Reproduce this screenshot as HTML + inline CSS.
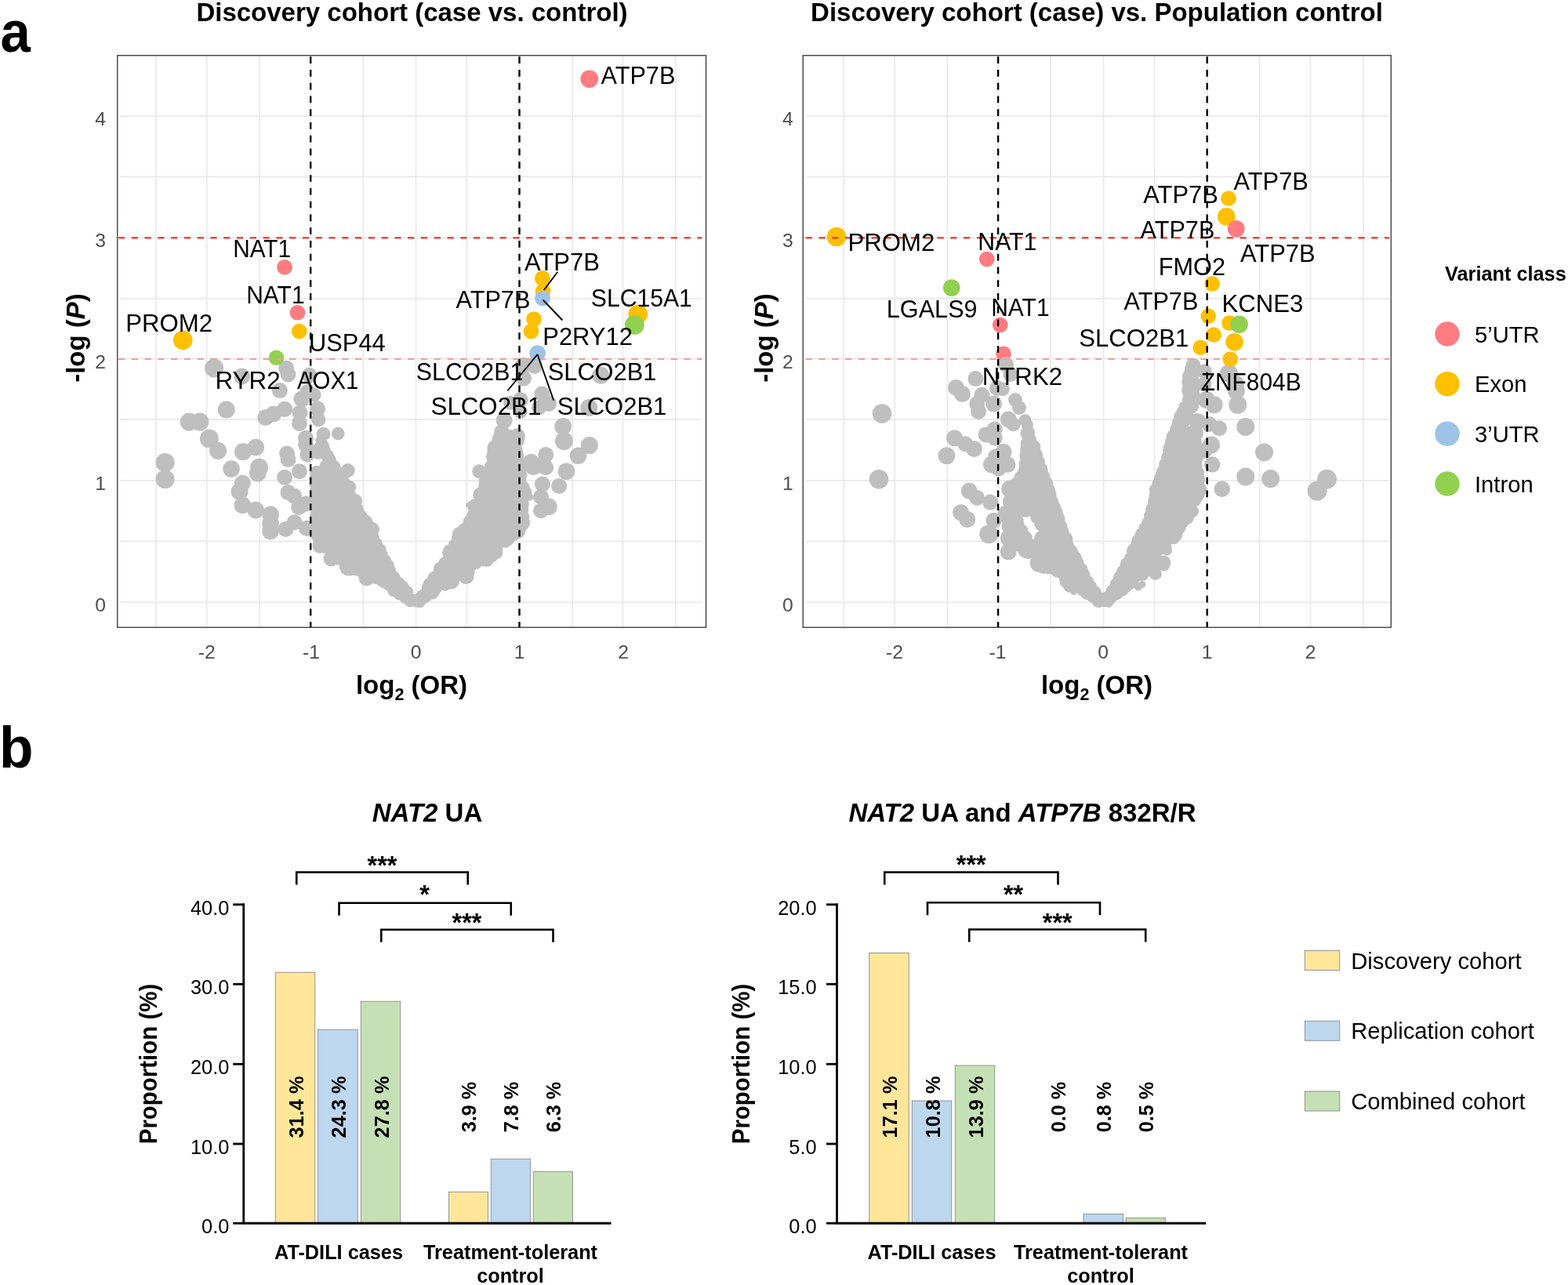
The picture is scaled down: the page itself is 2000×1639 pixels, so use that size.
<!DOCTYPE html>
<html lang="en"><head><meta charset="utf-8"><title>Figure</title>
<style>html,body{margin:0;padding:0;background:#fff}body{width:2000px;height:1639px;overflow:hidden}svg{display:block}</style>
</head><body>
<svg width="2000" height="1639" viewBox="0 0 2000 1639" font-family="'Liberation Sans', sans-serif">
<rect width="2000" height="1639" fill="#fff"/>
<line x1="152.5" x2="895" y1="148.25" y2="148.25" stroke="#ebebeb" stroke-width="1.8"/>
<line x1="152.5" x2="895" y1="225.5" y2="225.5" stroke="#ebebeb" stroke-width="1.8"/>
<line x1="152.5" x2="895" y1="303.25" y2="303.25" stroke="#ebebeb" stroke-width="1.8"/>
<line x1="152.5" x2="895" y1="380.75" y2="380.75" stroke="#ebebeb" stroke-width="1.8"/>
<line x1="152.5" x2="895" y1="457.5" y2="457.5" stroke="#ebebeb" stroke-width="1.8"/>
<line x1="152.5" x2="895" y1="535" y2="535" stroke="#ebebeb" stroke-width="1.8"/>
<line x1="152.5" x2="895" y1="613" y2="613" stroke="#ebebeb" stroke-width="1.8"/>
<line x1="152.5" x2="895" y1="690.5" y2="690.5" stroke="#ebebeb" stroke-width="1.8"/>
<line x1="152.5" x2="895" y1="768.25" y2="768.25" stroke="#ebebeb" stroke-width="1.8"/>
<line x1="199.25" x2="199.25" y1="70.75" y2="800.25" stroke="#ebebeb" stroke-width="1.8"/>
<line x1="263.75" x2="263.75" y1="70.75" y2="800.25" stroke="#ebebeb" stroke-width="1.8"/>
<line x1="331.25" x2="331.25" y1="70.75" y2="800.25" stroke="#ebebeb" stroke-width="1.8"/>
<line x1="396.2" x2="396.2" y1="70.75" y2="800.25" stroke="#ebebeb" stroke-width="1.8"/>
<line x1="463.25" x2="463.25" y1="70.75" y2="800.25" stroke="#ebebeb" stroke-width="1.8"/>
<line x1="530.5" x2="530.5" y1="70.75" y2="800.25" stroke="#ebebeb" stroke-width="1.8"/>
<line x1="595.25" x2="595.25" y1="70.75" y2="800.25" stroke="#ebebeb" stroke-width="1.8"/>
<line x1="662.5" x2="662.5" y1="70.75" y2="800.25" stroke="#ebebeb" stroke-width="1.8"/>
<line x1="730" x2="730" y1="70.75" y2="800.25" stroke="#ebebeb" stroke-width="1.8"/>
<line x1="794.5" x2="794.5" y1="70.75" y2="800.25" stroke="#ebebeb" stroke-width="1.8"/>
<line x1="861.75" x2="861.75" y1="70.75" y2="800.25" stroke="#ebebeb" stroke-width="1.8"/>
<g fill="#bfbfbf">
<circle cx="528.8" cy="765.9" r="7.5"/><circle cx="523.3" cy="767" r="7.5"/><circle cx="518" cy="761.4" r="9.1"/><circle cx="510.1" cy="756.6" r="9.2"/><circle cx="502.7" cy="753.1" r="8.5"/><circle cx="496.5" cy="745.7" r="8.3"/><circle cx="487.8" cy="738.9" r="9.6"/><circle cx="478" cy="736.2" r="8.9"/><circle cx="471.1" cy="733.4" r="8.4"/><circle cx="461.8" cy="727.9" r="9.2"/><circle cx="453.6" cy="725.5" r="8.7"/><circle cx="448.6" cy="722.9" r="8.4"/><circle cx="442.1" cy="718.9" r="8.7"/><circle cx="431.8" cy="712.3" r="8.4"/><circle cx="430" cy="710.4" r="9.6"/><circle cx="423.3" cy="703.3" r="8.4"/><circle cx="413.7" cy="697.3" r="8.5"/><circle cx="410" cy="697.1" r="6.5"/><circle cx="407.4" cy="686.9" r="8.8"/><circle cx="406" cy="682.2" r="9.5"/><circle cx="405.6" cy="674.8" r="9.4"/><circle cx="405.1" cy="667.6" r="9.2"/><circle cx="404.6" cy="658.3" r="9.2"/><circle cx="404.8" cy="649.2" r="8.5"/><circle cx="405.3" cy="642.6" r="9"/><circle cx="405" cy="633.4" r="8.9"/><circle cx="403.5" cy="626.9" r="8.7"/><circle cx="402.8" cy="617.1" r="8.6"/><circle cx="404.1" cy="610" r="9.7"/><circle cx="404.1" cy="602.8" r="9"/><circle cx="405.4" cy="576.4" r="8.5"/><circle cx="407.7" cy="573.1" r="9.1"/><circle cx="405.8" cy="561" r="3.5"/><circle cx="410.7" cy="569.1" r="9.1"/><circle cx="411.3" cy="568" r="7.5"/><circle cx="412.2" cy="574.9" r="9.7"/><circle cx="417.7" cy="581.5" r="8.4"/><circle cx="420.4" cy="587.5" r="8.7"/><circle cx="425.2" cy="595.4" r="9"/><circle cx="429.7" cy="603.4" r="8.7"/><circle cx="433.2" cy="607.7" r="8.3"/><circle cx="437.8" cy="614.5" r="8.3"/><circle cx="440.3" cy="624.2" r="9.3"/><circle cx="445.4" cy="633.2" r="9.4"/><circle cx="450.4" cy="643.5" r="8.7"/><circle cx="454.9" cy="650" r="9"/><circle cx="459.6" cy="658.9" r="9.2"/><circle cx="465.9" cy="666" r="9.5"/><circle cx="469" cy="670" r="8.3"/><circle cx="471.6" cy="676.6" r="8.6"/><circle cx="475.2" cy="685.6" r="8.7"/><circle cx="479.1" cy="693.7" r="8.8"/><circle cx="484.1" cy="700.9" r="8.4"/><circle cx="486.4" cy="708" r="8.4"/><circle cx="489.8" cy="715.7" r="9.5"/><circle cx="493.1" cy="722.2" r="9.1"/><circle cx="495.9" cy="728.9" r="9.6"/><circle cx="501.2" cy="737.2" r="9.4"/><circle cx="507.9" cy="743.9" r="8.7"/><circle cx="512.4" cy="749.1" r="9.3"/><circle cx="518.9" cy="755.2" r="8.3"/><circle cx="411" cy="568.7" r="8.6"/><circle cx="406" cy="577.3" r="8.6"/><circle cx="416" cy="594.6" r="8.6"/><circle cx="411" cy="603.3" r="8.6"/><circle cx="421" cy="603.3" r="8.6"/><circle cx="431" cy="603.3" r="8.6"/><circle cx="406" cy="612" r="8.6"/><circle cx="416" cy="612" r="8.6"/><circle cx="426" cy="612" r="8.6"/><circle cx="436" cy="612" r="8.6"/><circle cx="411" cy="620.6" r="8.6"/><circle cx="421" cy="620.6" r="8.6"/><circle cx="431" cy="620.6" r="8.6"/><circle cx="406" cy="629.3" r="8.6"/><circle cx="416" cy="629.3" r="8.6"/><circle cx="426" cy="629.3" r="8.6"/><circle cx="436" cy="629.3" r="8.6"/><circle cx="411" cy="637.9" r="8.6"/><circle cx="421" cy="637.9" r="8.6"/><circle cx="431" cy="637.9" r="8.6"/><circle cx="441" cy="637.9" r="8.6"/><circle cx="406" cy="646.6" r="8.6"/><circle cx="416" cy="646.6" r="8.6"/><circle cx="426" cy="646.6" r="8.6"/><circle cx="436" cy="646.6" r="8.6"/><circle cx="446" cy="646.6" r="8.6"/><circle cx="411" cy="655.3" r="8.6"/><circle cx="421" cy="655.3" r="8.6"/><circle cx="431" cy="655.3" r="8.6"/><circle cx="441" cy="655.3" r="8.6"/><circle cx="451" cy="655.3" r="8.6"/><circle cx="406" cy="663.9" r="8.6"/><circle cx="416" cy="663.9" r="8.6"/><circle cx="426" cy="663.9" r="8.6"/><circle cx="436" cy="663.9" r="8.6"/><circle cx="446" cy="663.9" r="8.6"/><circle cx="456" cy="663.9" r="8.6"/><circle cx="411" cy="672.6" r="8.6"/><circle cx="421" cy="672.6" r="8.6"/><circle cx="431" cy="672.6" r="8.6"/><circle cx="441" cy="672.6" r="8.6"/><circle cx="451" cy="672.6" r="8.6"/><circle cx="461" cy="672.6" r="8.6"/><circle cx="406" cy="681.2" r="8.6"/><circle cx="416" cy="681.2" r="8.6"/><circle cx="426" cy="681.2" r="8.6"/><circle cx="436" cy="681.2" r="8.6"/><circle cx="446" cy="681.2" r="8.6"/><circle cx="456" cy="681.2" r="8.6"/><circle cx="466" cy="681.2" r="8.6"/><circle cx="411" cy="689.9" r="8.6"/><circle cx="421" cy="689.9" r="8.6"/><circle cx="431" cy="689.9" r="8.6"/><circle cx="441" cy="689.9" r="8.6"/><circle cx="451" cy="689.9" r="8.6"/><circle cx="461" cy="689.9" r="8.6"/><circle cx="471" cy="689.9" r="8.6"/><circle cx="426" cy="698.6" r="8.6"/><circle cx="436" cy="698.6" r="8.6"/><circle cx="446" cy="698.6" r="8.6"/><circle cx="456" cy="698.6" r="8.6"/><circle cx="466" cy="698.6" r="8.6"/><circle cx="476" cy="698.6" r="8.6"/><circle cx="431" cy="707.2" r="8.6"/><circle cx="441" cy="707.2" r="8.6"/><circle cx="451" cy="707.2" r="8.6"/><circle cx="461" cy="707.2" r="8.6"/><circle cx="471" cy="707.2" r="8.6"/><circle cx="481" cy="707.2" r="8.6"/><circle cx="446" cy="715.9" r="8.6"/><circle cx="456" cy="715.9" r="8.6"/><circle cx="466" cy="715.9" r="8.6"/><circle cx="476" cy="715.9" r="8.6"/><circle cx="486" cy="715.9" r="8.6"/><circle cx="451" cy="724.5" r="8.6"/><circle cx="461" cy="724.5" r="8.6"/><circle cx="471" cy="724.5" r="8.6"/><circle cx="481" cy="724.5" r="8.6"/><circle cx="491" cy="724.5" r="8.6"/><circle cx="476" cy="733.2" r="8.6"/><circle cx="486" cy="733.2" r="8.6"/><circle cx="496" cy="733.2" r="8.6"/><circle cx="491" cy="741.9" r="8.6"/><circle cx="501" cy="741.9" r="8.6"/><circle cx="506" cy="750.5" r="8.6"/><circle cx="534.3" cy="765.2" r="8.7"/><circle cx="539.8" cy="760.8" r="9.4"/><circle cx="547.2" cy="750.1" r="9.5"/><circle cx="548.8" cy="745.9" r="9.4"/><circle cx="554.4" cy="737.9" r="9.3"/><circle cx="561.8" cy="728.3" r="9.1"/><circle cx="561.8" cy="725.4" r="8.9"/><circle cx="568.3" cy="719.6" r="9.6"/><circle cx="572.9" cy="705.1" r="8.8"/><circle cx="574" cy="702.9" r="9"/><circle cx="580.9" cy="695.6" r="9.2"/><circle cx="584.9" cy="685.8" r="9"/><circle cx="586.1" cy="681.3" r="9.3"/><circle cx="592.1" cy="675.7" r="8.6"/><circle cx="600.4" cy="665.1" r="9.4"/><circle cx="604" cy="657.2" r="8.5"/><circle cx="597.5" cy="644.1" r="3.5"/><circle cx="605.8" cy="645.9" r="9.6"/><circle cx="612.7" cy="631.5" r="9.3"/><circle cx="613.3" cy="630.6" r="9.6"/><circle cx="619.2" cy="619.9" r="9"/><circle cx="619.4" cy="611.2" r="8.4"/><circle cx="623.3" cy="602.5" r="9.4"/><circle cx="626.5" cy="595.5" r="8.9"/><circle cx="629.5" cy="583.1" r="9.4"/><circle cx="631.2" cy="575.5" r="9.6"/><circle cx="632.6" cy="573" r="9.6"/><circle cx="635.8" cy="563.5" r="8.6"/><circle cx="640.2" cy="557.3" r="8.7"/><circle cx="641.1" cy="548" r="3.5"/><circle cx="642.4" cy="553.9" r="8.3"/><circle cx="651.6" cy="556.3" r="8.4"/><circle cx="658.5" cy="559.8" r="8.4"/><circle cx="660.3" cy="561.4" r="8.6"/><circle cx="658.4" cy="573.3" r="8.3"/><circle cx="659.3" cy="579.9" r="8.6"/><circle cx="660.7" cy="586.7" r="8.3"/><circle cx="663.2" cy="596.4" r="8.4"/><circle cx="664.1" cy="605.4" r="8.3"/><circle cx="661.6" cy="612.1" r="9.7"/><circle cx="667.5" cy="622.2" r="8.4"/><circle cx="669.2" cy="628.6" r="9.4"/><circle cx="675.9" cy="634.2" r="4.5"/><circle cx="665.4" cy="642.7" r="9.5"/><circle cx="665.8" cy="650" r="8.6"/><circle cx="666.2" cy="659.4" r="9.1"/><circle cx="667.1" cy="667" r="9"/><circle cx="665" cy="670.7" r="8.3"/><circle cx="660.7" cy="677.5" r="9.6"/><circle cx="655.1" cy="681.3" r="8.6"/><circle cx="647.3" cy="686.7" r="9.1"/><circle cx="644.2" cy="690" r="8.7"/><circle cx="632.6" cy="701" r="8.8"/><circle cx="632.9" cy="704.8" r="8.4"/><circle cx="626.7" cy="709.6" r="8.3"/><circle cx="621" cy="714" r="8.8"/><circle cx="617.1" cy="713.2" r="9.3"/><circle cx="606.2" cy="717.7" r="8.9"/><circle cx="596.2" cy="729.2" r="9.5"/><circle cx="596.2" cy="736.1" r="8.4"/><circle cx="593.9" cy="738.6" r="6.5"/><circle cx="593.8" cy="735.2" r="9.3"/><circle cx="576.5" cy="741.2" r="9.6"/><circle cx="576.5" cy="743.8" r="7.5"/><circle cx="567.9" cy="744.6" r="9.1"/><circle cx="554.9" cy="751" r="8.4"/><circle cx="551.5" cy="755.7" r="8.7"/><circle cx="543.8" cy="759.7" r="8.4"/><circle cx="535.6" cy="767.6" r="7.5"/><circle cx="530.8" cy="771.1" r="3.5"/><circle cx="639.4" cy="562.3" r="8.6"/><circle cx="649.4" cy="562.3" r="8.6"/><circle cx="659.4" cy="562.3" r="8.6"/><circle cx="634.4" cy="571" r="8.6"/><circle cx="644.4" cy="571" r="8.6"/><circle cx="654.4" cy="571" r="8.6"/><circle cx="629.4" cy="579.6" r="8.6"/><circle cx="639.4" cy="579.6" r="8.6"/><circle cx="649.4" cy="579.6" r="8.6"/><circle cx="659.4" cy="579.6" r="8.6"/><circle cx="634.4" cy="588.3" r="8.6"/><circle cx="644.4" cy="588.3" r="8.6"/><circle cx="654.4" cy="588.3" r="8.6"/><circle cx="629.4" cy="597" r="8.6"/><circle cx="639.4" cy="597" r="8.6"/><circle cx="649.4" cy="597" r="8.6"/><circle cx="659.4" cy="597" r="8.6"/><circle cx="624.4" cy="605.6" r="8.6"/><circle cx="634.4" cy="605.6" r="8.6"/><circle cx="644.4" cy="605.6" r="8.6"/><circle cx="654.4" cy="605.6" r="8.6"/><circle cx="619.4" cy="614.3" r="8.6"/><circle cx="629.4" cy="614.3" r="8.6"/><circle cx="639.4" cy="614.3" r="8.6"/><circle cx="649.4" cy="614.3" r="8.6"/><circle cx="659.4" cy="614.3" r="8.6"/><circle cx="624.4" cy="622.9" r="8.6"/><circle cx="634.4" cy="622.9" r="8.6"/><circle cx="644.4" cy="622.9" r="8.6"/><circle cx="654.4" cy="622.9" r="8.6"/><circle cx="664.4" cy="622.9" r="8.6"/><circle cx="619.4" cy="631.6" r="8.6"/><circle cx="629.4" cy="631.6" r="8.6"/><circle cx="639.4" cy="631.6" r="8.6"/><circle cx="649.4" cy="631.6" r="8.6"/><circle cx="659.4" cy="631.6" r="8.6"/><circle cx="669.4" cy="631.6" r="8.6"/><circle cx="614.4" cy="640.3" r="8.6"/><circle cx="624.4" cy="640.3" r="8.6"/><circle cx="634.4" cy="640.3" r="8.6"/><circle cx="644.4" cy="640.3" r="8.6"/><circle cx="654.4" cy="640.3" r="8.6"/><circle cx="664.4" cy="640.3" r="8.6"/><circle cx="609.4" cy="648.9" r="8.6"/><circle cx="619.4" cy="648.9" r="8.6"/><circle cx="629.4" cy="648.9" r="8.6"/><circle cx="639.4" cy="648.9" r="8.6"/><circle cx="649.4" cy="648.9" r="8.6"/><circle cx="659.4" cy="648.9" r="8.6"/><circle cx="604.4" cy="657.6" r="8.6"/><circle cx="614.4" cy="657.6" r="8.6"/><circle cx="624.4" cy="657.6" r="8.6"/><circle cx="634.4" cy="657.6" r="8.6"/><circle cx="644.4" cy="657.6" r="8.6"/><circle cx="654.4" cy="657.6" r="8.6"/><circle cx="664.4" cy="657.6" r="8.6"/><circle cx="599.4" cy="666.2" r="8.6"/><circle cx="609.4" cy="666.2" r="8.6"/><circle cx="619.4" cy="666.2" r="8.6"/><circle cx="629.4" cy="666.2" r="8.6"/><circle cx="639.4" cy="666.2" r="8.6"/><circle cx="649.4" cy="666.2" r="8.6"/><circle cx="659.4" cy="666.2" r="8.6"/><circle cx="594.4" cy="674.9" r="8.6"/><circle cx="604.4" cy="674.9" r="8.6"/><circle cx="614.4" cy="674.9" r="8.6"/><circle cx="624.4" cy="674.9" r="8.6"/><circle cx="634.4" cy="674.9" r="8.6"/><circle cx="644.4" cy="674.9" r="8.6"/><circle cx="654.4" cy="674.9" r="8.6"/><circle cx="589.4" cy="683.6" r="8.6"/><circle cx="599.4" cy="683.6" r="8.6"/><circle cx="609.4" cy="683.6" r="8.6"/><circle cx="619.4" cy="683.6" r="8.6"/><circle cx="629.4" cy="683.6" r="8.6"/><circle cx="639.4" cy="683.6" r="8.6"/><circle cx="649.4" cy="683.6" r="8.6"/><circle cx="584.4" cy="692.2" r="8.6"/><circle cx="594.4" cy="692.2" r="8.6"/><circle cx="604.4" cy="692.2" r="8.6"/><circle cx="614.4" cy="692.2" r="8.6"/><circle cx="624.4" cy="692.2" r="8.6"/><circle cx="634.4" cy="692.2" r="8.6"/><circle cx="579.4" cy="700.9" r="8.6"/><circle cx="589.4" cy="700.9" r="8.6"/><circle cx="599.4" cy="700.9" r="8.6"/><circle cx="609.4" cy="700.9" r="8.6"/><circle cx="619.4" cy="700.9" r="8.6"/><circle cx="629.4" cy="700.9" r="8.6"/><circle cx="574.4" cy="709.5" r="8.6"/><circle cx="584.4" cy="709.5" r="8.6"/><circle cx="594.4" cy="709.5" r="8.6"/><circle cx="604.4" cy="709.5" r="8.6"/><circle cx="614.4" cy="709.5" r="8.6"/><circle cx="624.4" cy="709.5" r="8.6"/><circle cx="569.4" cy="718.2" r="8.6"/><circle cx="579.4" cy="718.2" r="8.6"/><circle cx="589.4" cy="718.2" r="8.6"/><circle cx="599.4" cy="718.2" r="8.6"/><circle cx="564.4" cy="726.9" r="8.6"/><circle cx="574.4" cy="726.9" r="8.6"/><circle cx="584.4" cy="726.9" r="8.6"/><circle cx="594.4" cy="726.9" r="8.6"/><circle cx="559.4" cy="735.5" r="8.6"/><circle cx="569.4" cy="735.5" r="8.6"/><circle cx="579.4" cy="735.5" r="8.6"/><circle cx="554.4" cy="744.2" r="8.6"/><circle cx="564.4" cy="744.2" r="8.6"/><circle cx="549.4" cy="752.8" r="8.6"/><circle cx="273.1" cy="469.4" r="12"/><circle cx="308.75" cy="480" r="10.5"/><circle cx="365" cy="469.4" r="10"/><circle cx="367.5" cy="477.5" r="10"/><circle cx="356.9" cy="498.1" r="10"/><circle cx="394.4" cy="478.75" r="10"/><circle cx="288.75" cy="522.5" r="11"/><circle cx="241.25" cy="538.1" r="11.5"/><circle cx="255" cy="538.1" r="11.5"/><circle cx="266.9" cy="559.4" r="12"/><circle cx="278.1" cy="575" r="11"/><circle cx="338.75" cy="532.5" r="10.5"/><circle cx="348.75" cy="528.1" r="10.5"/><circle cx="363.1" cy="521.9" r="10.2"/><circle cx="210.6" cy="590" r="12"/><circle cx="210.6" cy="611.25" r="12"/><circle cx="310" cy="576.25" r="11"/><circle cx="326.25" cy="570.6" r="10.8"/><circle cx="295" cy="598.1" r="10.8"/><circle cx="330.6" cy="596.25" r="11.5"/><circle cx="328.75" cy="603.75" r="10.8"/><circle cx="366" cy="578.5" r="10"/><circle cx="367.5" cy="586" r="10"/><circle cx="309.4" cy="616.25" r="10.5"/><circle cx="305.6" cy="626.9" r="11"/><circle cx="363.1" cy="608.75" r="10"/><circle cx="381.9" cy="601.25" r="10"/><circle cx="385" cy="508.75" r="10.5"/><circle cx="392.5" cy="500" r="10"/><circle cx="382.5" cy="526.25" r="10"/><circle cx="381.9" cy="540" r="10"/><circle cx="405" cy="521.25" r="10"/><circle cx="406.25" cy="535" r="9.2"/><circle cx="400.6" cy="503.75" r="9"/><circle cx="390" cy="558.75" r="10"/><circle cx="390" cy="567.5" r="10"/><circle cx="391.9" cy="580" r="9.5"/><circle cx="412.5" cy="553.75" r="9"/><circle cx="431.25" cy="553.1" r="8.3"/><circle cx="309.4" cy="644.4" r="10.8"/><circle cx="326.25" cy="650.6" r="10.8"/><circle cx="345" cy="656.25" r="10.8"/><circle cx="345" cy="667.5" r="10.8"/><circle cx="345" cy="677.5" r="10.8"/><circle cx="367.5" cy="628.1" r="10"/><circle cx="375" cy="632.5" r="10"/><circle cx="381.25" cy="646.9" r="10"/><circle cx="390" cy="642.5" r="10"/><circle cx="364.4" cy="675" r="10"/><circle cx="375.6" cy="666.25" r="10"/><circle cx="392.5" cy="673.75" r="10"/><circle cx="408.1" cy="696.25" r="9.5"/><circle cx="422.5" cy="712.5" r="10"/><circle cx="391" cy="674" r="10"/><circle cx="445" cy="722.5" r="12"/><circle cx="467.5" cy="737.5" r="10"/><circle cx="443.75" cy="600" r="9"/><circle cx="530" cy="765" r="7.5"/><circle cx="475" cy="675" r="9"/><circle cx="493.75" cy="721.25" r="9"/><circle cx="453.1" cy="638.75" r="9"/><circle cx="445" cy="621.25" r="9"/><circle cx="667.5" cy="466.25" r="10.5"/><circle cx="681.9" cy="466.9" r="10"/><circle cx="668.1" cy="482.5" r="10"/><circle cx="766.25" cy="478.75" r="11"/><circle cx="691.25" cy="502.5" r="10"/><circle cx="700" cy="515" r="10"/><circle cx="687.5" cy="520" r="9.5"/><circle cx="663.75" cy="510" r="10"/><circle cx="651" cy="513.75" r="9"/><circle cx="663.75" cy="525" r="9"/><circle cx="751.25" cy="520" r="11"/><circle cx="643.1" cy="536.25" r="10.5"/><circle cx="640" cy="551.25" r="10"/><circle cx="660" cy="556.25" r="10"/><circle cx="718.1" cy="543.75" r="10.8"/><circle cx="719.4" cy="562.5" r="11.5"/><circle cx="751.9" cy="568.1" r="11"/><circle cx="737.5" cy="581.25" r="10.8"/><circle cx="696.25" cy="580" r="10"/><circle cx="677.5" cy="588.75" r="10"/><circle cx="690" cy="593.75" r="10"/><circle cx="696.25" cy="596.25" r="10"/><circle cx="680" cy="596.25" r="10"/><circle cx="722.5" cy="601.25" r="10.8"/><circle cx="691.9" cy="617.5" r="10"/><circle cx="713.1" cy="620" r="10"/><circle cx="690" cy="633.75" r="10"/><circle cx="700" cy="646.25" r="10.8"/><circle cx="690" cy="651.25" r="10"/><circle cx="611.25" cy="601.25" r="9"/><circle cx="631.25" cy="571.25" r="10"/><circle cx="637.5" cy="560" r="10"/><circle cx="647.5" cy="687.5" r="9"/>
</g>
<circle cx="363" cy="340.75" r="9.85" fill="#ff7c80"/>
<circle cx="379.5" cy="398.75" r="9.85" fill="#ff7c80"/>
<circle cx="751.75" cy="100.75" r="11.35" fill="#ff7c80"/>
<circle cx="233.25" cy="433.75" r="12.35" fill="#ffc000"/>
<circle cx="381.75" cy="422.5" r="9.85" fill="#ffc000"/>
<circle cx="352.5" cy="456.25" r="9.85" fill="#92d050"/>
<circle cx="692" cy="355" r="10.049999999999999" fill="#ffc000"/>
<circle cx="692.5" cy="371.5" r="9.85" fill="#ffc000"/>
<circle cx="692" cy="380.5" r="9.85" fill="#9dc3e6"/>
<circle cx="813.75" cy="400.75" r="12.35" fill="#ffc000"/>
<circle cx="809.4" cy="414.4" r="12.35" fill="#92d050"/>
<circle cx="681" cy="407" r="9.85" fill="#ffc000"/>
<circle cx="677.5" cy="422.5" r="9.85" fill="#ffc000"/>
<circle cx="685.6" cy="450.6" r="10.35" fill="#9dc3e6"/>
<line x1="151" x2="895.5" y1="303.4" y2="303.4" stroke="#e8372c" stroke-width="2.1" stroke-dasharray="8.2 8.58"/>
<line x1="151" x2="895.5" y1="458" y2="458" stroke="#f0a09c" stroke-width="2.1" stroke-dasharray="8.2 8.58"/>
<line x1="396.2" x2="396.2" y1="72.2" y2="800.25" stroke="#000" stroke-width="2.4" stroke-dasharray="8.7 8.07"/>
<line x1="662.5" x2="662.5" y1="72.2" y2="800.25" stroke="#000" stroke-width="2.4" stroke-dasharray="8.7 8.07"/>
<rect x="149.75" y="70.75" width="750.75" height="729.5" fill="none" stroke="#333" stroke-width="1.3"/>
<line x1="711.25" y1="346.75" x2="693.75" y2="370" stroke="#000" stroke-width="1.9"/>
<line x1="692.5" y1="382.5" x2="717.5" y2="408.5" stroke="#000" stroke-width="1.9"/>
<line x1="685.5" y1="452" x2="647.5" y2="498.25" stroke="#000" stroke-width="1.9"/>
<line x1="685.5" y1="452" x2="706.25" y2="510.75" stroke="#000" stroke-width="1.9"/>
<text x="766.55" y="106.7" font-size="31" textLength="94.79" lengthAdjust="spacingAndGlyphs">ATP7B</text>
<text x="297.15" y="327.95" font-size="31" textLength="73.95" lengthAdjust="spacingAndGlyphs">NAT1</text>
<text x="314.13" y="386.7" font-size="31" textLength="74.47" lengthAdjust="spacingAndGlyphs">NAT1</text>
<text x="160.28" y="422.95" font-size="31" textLength="110.92" lengthAdjust="spacingAndGlyphs">PROM2</text>
<text x="394.07" y="447.95" font-size="31" textLength="97.61" lengthAdjust="spacingAndGlyphs">USP44</text>
<text x="274.52" y="496.2" font-size="31" textLength="83.09" lengthAdjust="spacingAndGlyphs">RYR2</text>
<text x="379.05" y="496.2" font-size="31" textLength="78.29" lengthAdjust="spacingAndGlyphs">AOX1</text>
<text x="669.10" y="344.7" font-size="31" textLength="95.76" lengthAdjust="spacingAndGlyphs">ATP7B</text>
<text x="581.55" y="392.95" font-size="31" textLength="94.79" lengthAdjust="spacingAndGlyphs">ATP7B</text>
<text x="753.84" y="390.95" font-size="31" textLength="129.04" lengthAdjust="spacingAndGlyphs">SLC15A1</text>
<text x="692.31" y="439.95" font-size="31" textLength="114.55" lengthAdjust="spacingAndGlyphs">P2RY12</text>
<text x="530.83" y="485.45" font-size="31" textLength="136.41" lengthAdjust="spacingAndGlyphs">SLCO2B1</text>
<text x="698.81" y="485.45" font-size="31" textLength="138.46" lengthAdjust="spacingAndGlyphs">SLCO2B1</text>
<text x="549.54" y="529.2" font-size="31" textLength="140.76" lengthAdjust="spacingAndGlyphs">SLCO2B1</text>
<text x="710.80" y="529.2" font-size="31" textLength="139.48" lengthAdjust="spacingAndGlyphs">SLCO2B1</text>
<text x="135" y="160.25" font-size="24.7" font-weight="normal" text-anchor="end" fill="#4d4d4d" >4</text>
<text x="135" y="315.25" font-size="24.7" font-weight="normal" text-anchor="end" fill="#4d4d4d" >3</text>
<text x="135" y="469.5" font-size="24.7" font-weight="normal" text-anchor="end" fill="#4d4d4d" >2</text>
<text x="135" y="625" font-size="24.7" font-weight="normal" text-anchor="end" fill="#4d4d4d" >1</text>
<text x="135" y="780.25" font-size="24.7" font-weight="normal" text-anchor="end" fill="#4d4d4d" >0</text>
<text x="263.75" y="839.5" font-size="24.7" font-weight="normal" text-anchor="middle" fill="#4d4d4d" >-2</text>
<text x="397" y="839.5" font-size="24.7" font-weight="normal" text-anchor="middle" fill="#4d4d4d" >-1</text>
<text x="530.5" y="839.5" font-size="24.7" font-weight="normal" text-anchor="middle" fill="#4d4d4d" >0</text>
<text x="662.5" y="839.5" font-size="24.7" font-weight="normal" text-anchor="middle" fill="#4d4d4d" >1</text>
<text x="795" y="839.5" font-size="24.7" font-weight="normal" text-anchor="middle" fill="#4d4d4d" >2</text>
<text x="525" y="885" font-size="33" font-weight="bold" text-anchor="middle">log<tspan font-size="21.5" dy="8">2</tspan><tspan dy="-8"> (OR)</tspan></text>
<text transform="translate(108,431) rotate(-90)" font-size="33" font-weight="bold" text-anchor="middle">-log (<tspan font-style="italic">P</tspan>)</text>
<text x="525.5" y="26.6" font-size="33" font-weight="bold" text-anchor="middle" fill="#000" >Discovery cohort (case vs. control)</text>
<line x1="1028.75" x2="1771.25" y1="148.25" y2="148.25" stroke="#ebebeb" stroke-width="1.8"/>
<line x1="1028.75" x2="1771.25" y1="225.5" y2="225.5" stroke="#ebebeb" stroke-width="1.8"/>
<line x1="1028.75" x2="1771.25" y1="303.25" y2="303.25" stroke="#ebebeb" stroke-width="1.8"/>
<line x1="1028.75" x2="1771.25" y1="380.75" y2="380.75" stroke="#ebebeb" stroke-width="1.8"/>
<line x1="1028.75" x2="1771.25" y1="457.5" y2="457.5" stroke="#ebebeb" stroke-width="1.8"/>
<line x1="1028.75" x2="1771.25" y1="535" y2="535" stroke="#ebebeb" stroke-width="1.8"/>
<line x1="1028.75" x2="1771.25" y1="613" y2="613" stroke="#ebebeb" stroke-width="1.8"/>
<line x1="1028.75" x2="1771.25" y1="690.5" y2="690.5" stroke="#ebebeb" stroke-width="1.8"/>
<line x1="1028.75" x2="1771.25" y1="768.25" y2="768.25" stroke="#ebebeb" stroke-width="1.8"/>
<line x1="1076.25" x2="1076.25" y1="70.75" y2="800.25" stroke="#ebebeb" stroke-width="1.8"/>
<line x1="1141.25" x2="1141.25" y1="70.75" y2="800.25" stroke="#ebebeb" stroke-width="1.8"/>
<line x1="1208.25" x2="1208.25" y1="70.75" y2="800.25" stroke="#ebebeb" stroke-width="1.8"/>
<line x1="1273.1" x2="1273.1" y1="70.75" y2="800.25" stroke="#ebebeb" stroke-width="1.8"/>
<line x1="1340" x2="1340" y1="70.75" y2="800.25" stroke="#ebebeb" stroke-width="1.8"/>
<line x1="1407.5" x2="1407.5" y1="70.75" y2="800.25" stroke="#ebebeb" stroke-width="1.8"/>
<line x1="1472.5" x2="1472.5" y1="70.75" y2="800.25" stroke="#ebebeb" stroke-width="1.8"/>
<line x1="1539.7" x2="1539.7" y1="70.75" y2="800.25" stroke="#ebebeb" stroke-width="1.8"/>
<line x1="1606.75" x2="1606.75" y1="70.75" y2="800.25" stroke="#ebebeb" stroke-width="1.8"/>
<line x1="1671.5" x2="1671.5" y1="70.75" y2="800.25" stroke="#ebebeb" stroke-width="1.8"/>
<line x1="1738.75" x2="1738.75" y1="70.75" y2="800.25" stroke="#ebebeb" stroke-width="1.8"/>
<g fill="#bfbfbf">
<circle cx="1400.6" cy="763.6" r="9.1"/><circle cx="1395.9" cy="756.4" r="9.3"/><circle cx="1390.8" cy="748.6" r="8.5"/><circle cx="1385.9" cy="742.6" r="9.5"/><circle cx="1381.9" cy="733.7" r="8.7"/><circle cx="1379.5" cy="726.6" r="8.4"/><circle cx="1373.1" cy="718.2" r="9.6"/><circle cx="1370.7" cy="711.2" r="8.8"/><circle cx="1365.4" cy="703.4" r="9.3"/><circle cx="1361.1" cy="695.5" r="8.9"/><circle cx="1358.7" cy="687.5" r="9.7"/><circle cx="1353.9" cy="678.7" r="9.7"/><circle cx="1352.9" cy="671.3" r="8.5"/><circle cx="1349.9" cy="661.7" r="8.7"/><circle cx="1346.4" cy="653.4" r="9.2"/><circle cx="1344.3" cy="647.4" r="8.7"/><circle cx="1341.4" cy="640.2" r="8.7"/><circle cx="1338.5" cy="630.8" r="9.1"/><circle cx="1337.3" cy="624.4" r="8.4"/><circle cx="1334.8" cy="616.5" r="8.4"/><circle cx="1330.3" cy="607" r="8.6"/><circle cx="1327.2" cy="598.2" r="8.9"/><circle cx="1323.4" cy="589.5" r="9.5"/><circle cx="1320.7" cy="580.4" r="9.3"/><circle cx="1319" cy="569.9" r="8.4"/><circle cx="1313.1" cy="560.9" r="9"/><circle cx="1311.1" cy="552" r="9"/><circle cx="1310.3" cy="542.6" r="6.5"/><circle cx="1309.4" cy="537.2" r="5.5"/><circle cx="1310.4" cy="541.7" r="7.5"/><circle cx="1310.8" cy="551.2" r="7.5"/><circle cx="1311" cy="558.1" r="7.5"/><circle cx="1310.9" cy="566" r="9.3"/><circle cx="1310.1" cy="573" r="9"/><circle cx="1309.2" cy="581.5" r="8.9"/><circle cx="1308.8" cy="591.4" r="9.1"/><circle cx="1307.3" cy="600.4" r="8.4"/><circle cx="1301.6" cy="610.3" r="8.4"/><circle cx="1297.2" cy="618.2" r="9.3"/><circle cx="1298.1" cy="622.9" r="9"/><circle cx="1298" cy="629.7" r="9.5"/><circle cx="1297" cy="639.6" r="9.1"/><circle cx="1296.9" cy="646.5" r="8.5"/><circle cx="1295.5" cy="656.3" r="8.4"/><circle cx="1296.6" cy="664.6" r="9.3"/><circle cx="1295.9" cy="675" r="9.5"/><circle cx="1296.1" cy="682.2" r="9"/><circle cx="1296.3" cy="692.4" r="8.9"/><circle cx="1291.9" cy="696.3" r="5.5"/><circle cx="1302" cy="696.1" r="8.8"/><circle cx="1310.8" cy="703.3" r="9.6"/><circle cx="1312.5" cy="702.4" r="8.8"/><circle cx="1323" cy="715.5" r="8.9"/><circle cx="1322.7" cy="717.6" r="8.4"/><circle cx="1326.4" cy="720.3" r="9.6"/><circle cx="1331.7" cy="722.5" r="9.6"/><circle cx="1338.7" cy="722.8" r="9.5"/><circle cx="1349.1" cy="727.1" r="9.6"/><circle cx="1360.8" cy="739.2" r="9.6"/><circle cx="1361" cy="741.3" r="9.6"/><circle cx="1364.9" cy="746.9" r="9.1"/><circle cx="1369.4" cy="755.5" r="3.5"/><circle cx="1381.1" cy="751" r="9.4"/><circle cx="1386.4" cy="756.4" r="8.5"/><circle cx="1394.5" cy="760.9" r="8.4"/><circle cx="1401.2" cy="766.2" r="8.8"/><circle cx="1406.8" cy="765.2" r="8.8"/><circle cx="1313" cy="573.3" r="8.6"/><circle cx="1318" cy="582" r="8.6"/><circle cx="1313" cy="590.6" r="8.6"/><circle cx="1323" cy="590.6" r="8.6"/><circle cx="1308" cy="599.3" r="8.6"/><circle cx="1318" cy="599.3" r="8.6"/><circle cx="1328" cy="599.3" r="8.6"/><circle cx="1303" cy="607.9" r="8.6"/><circle cx="1313" cy="607.9" r="8.6"/><circle cx="1323" cy="607.9" r="8.6"/><circle cx="1298" cy="616.6" r="8.6"/><circle cx="1308" cy="616.6" r="8.6"/><circle cx="1318" cy="616.6" r="8.6"/><circle cx="1328" cy="616.6" r="8.6"/><circle cx="1303" cy="625.3" r="8.6"/><circle cx="1313" cy="625.3" r="8.6"/><circle cx="1323" cy="625.3" r="8.6"/><circle cx="1333" cy="625.3" r="8.6"/><circle cx="1298" cy="633.9" r="8.6"/><circle cx="1308" cy="633.9" r="8.6"/><circle cx="1318" cy="633.9" r="8.6"/><circle cx="1328" cy="633.9" r="8.6"/><circle cx="1338" cy="633.9" r="8.6"/><circle cx="1303" cy="642.6" r="8.6"/><circle cx="1313" cy="642.6" r="8.6"/><circle cx="1323" cy="642.6" r="8.6"/><circle cx="1333" cy="642.6" r="8.6"/><circle cx="1298" cy="651.2" r="8.6"/><circle cx="1308" cy="651.2" r="8.6"/><circle cx="1318" cy="651.2" r="8.6"/><circle cx="1328" cy="651.2" r="8.6"/><circle cx="1338" cy="651.2" r="8.6"/><circle cx="1323" cy="659.9" r="8.6"/><circle cx="1333" cy="659.9" r="8.6"/><circle cx="1343" cy="659.9" r="8.6"/><circle cx="1298" cy="668.6" r="8.6"/><circle cx="1328" cy="668.6" r="8.6"/><circle cx="1338" cy="668.6" r="8.6"/><circle cx="1348" cy="668.6" r="8.6"/><circle cx="1303" cy="677.2" r="8.6"/><circle cx="1333" cy="677.2" r="8.6"/><circle cx="1343" cy="677.2" r="8.6"/><circle cx="1353" cy="677.2" r="8.6"/><circle cx="1298" cy="685.9" r="8.6"/><circle cx="1308" cy="685.9" r="8.6"/><circle cx="1328" cy="685.9" r="8.6"/><circle cx="1338" cy="685.9" r="8.6"/><circle cx="1348" cy="685.9" r="8.6"/><circle cx="1358" cy="685.9" r="8.6"/><circle cx="1303" cy="694.5" r="8.6"/><circle cx="1313" cy="694.5" r="8.6"/><circle cx="1323" cy="694.5" r="8.6"/><circle cx="1333" cy="694.5" r="8.6"/><circle cx="1343" cy="694.5" r="8.6"/><circle cx="1353" cy="694.5" r="8.6"/><circle cx="1318" cy="703.2" r="8.6"/><circle cx="1328" cy="703.2" r="8.6"/><circle cx="1338" cy="703.2" r="8.6"/><circle cx="1348" cy="703.2" r="8.6"/><circle cx="1358" cy="703.2" r="8.6"/><circle cx="1333" cy="711.9" r="8.6"/><circle cx="1343" cy="711.9" r="8.6"/><circle cx="1353" cy="711.9" r="8.6"/><circle cx="1363" cy="711.9" r="8.6"/><circle cx="1328" cy="720.5" r="8.6"/><circle cx="1338" cy="720.5" r="8.6"/><circle cx="1348" cy="720.5" r="8.6"/><circle cx="1358" cy="720.5" r="8.6"/><circle cx="1368" cy="720.5" r="8.6"/><circle cx="1353" cy="729.2" r="8.6"/><circle cx="1363" cy="729.2" r="8.6"/><circle cx="1373" cy="729.2" r="8.6"/><circle cx="1368" cy="737.8" r="8.6"/><circle cx="1378" cy="737.8" r="8.6"/><circle cx="1373" cy="746.5" r="8.6"/><circle cx="1383" cy="746.5" r="8.6"/><circle cx="1388" cy="755.2" r="8.6"/><circle cx="1414.3" cy="762.7" r="9.5"/><circle cx="1419.9" cy="754.3" r="9.3"/><circle cx="1424.6" cy="745.3" r="8.9"/><circle cx="1429.6" cy="737.2" r="9.7"/><circle cx="1433.3" cy="730" r="9.5"/><circle cx="1437.7" cy="720.1" r="9.2"/><circle cx="1442.8" cy="712.7" r="9"/><circle cx="1446.4" cy="703" r="9.5"/><circle cx="1451.2" cy="696.1" r="9.7"/><circle cx="1452.3" cy="689.4" r="8.8"/><circle cx="1456.5" cy="681.7" r="8.8"/><circle cx="1461" cy="674.5" r="8.9"/><circle cx="1465.2" cy="667.2" r="9.1"/><circle cx="1467.9" cy="658" r="8.9"/><circle cx="1470.1" cy="649.6" r="9"/><circle cx="1473.2" cy="642.4" r="8.8"/><circle cx="1475.1" cy="633.1" r="9.5"/><circle cx="1474.5" cy="624.8" r="8.6"/><circle cx="1478.4" cy="617" r="8.9"/><circle cx="1480.5" cy="610.5" r="8.6"/><circle cx="1485.8" cy="600.7" r="9.6"/><circle cx="1487.7" cy="592.5" r="9.5"/><circle cx="1490.8" cy="583.2" r="9.6"/><circle cx="1492.9" cy="574.2" r="9.7"/><circle cx="1494.8" cy="564" r="8.8"/><circle cx="1497.2" cy="556.3" r="8.4"/><circle cx="1500.4" cy="547.8" r="8.4"/><circle cx="1503.4" cy="539.3" r="8.6"/><circle cx="1506.4" cy="532" r="9.5"/><circle cx="1509.5" cy="526.1" r="8.5"/><circle cx="1511.9" cy="519.5" r="8.6"/><circle cx="1516.9" cy="507.9" r="8.3"/><circle cx="1516.7" cy="497.7" r="9.6"/><circle cx="1516.6" cy="487.6" r="9.3"/><circle cx="1517.4" cy="480" r="9.4"/><circle cx="1520.3" cy="471.6" r="9.6"/><circle cx="1519.7" cy="463.7" r="4.5"/><circle cx="1519.5" cy="465" r="5.5"/><circle cx="1521.8" cy="471.4" r="8.4"/><circle cx="1519.8" cy="479.5" r="8.9"/><circle cx="1521.6" cy="486.9" r="8.3"/><circle cx="1521.2" cy="496.6" r="9.2"/><circle cx="1521.2" cy="506.1" r="8.8"/><circle cx="1520" cy="516.3" r="9.3"/><circle cx="1520.1" cy="518.8" r="8.7"/><circle cx="1514" cy="528.5" r="8.5"/><circle cx="1509.5" cy="538" r="8.6"/><circle cx="1511.4" cy="551.3" r="9"/><circle cx="1516.3" cy="558.8" r="9.5"/><circle cx="1524.3" cy="563.3" r="8.5"/><circle cx="1525.1" cy="568.9" r="9.1"/><circle cx="1528.6" cy="578.3" r="8.7"/><circle cx="1526.2" cy="584.1" r="8.9"/><circle cx="1524.7" cy="593.8" r="9"/><circle cx="1527.9" cy="603" r="8.4"/><circle cx="1527.7" cy="611.8" r="9.5"/><circle cx="1529.7" cy="623.5" r="9"/><circle cx="1531.1" cy="625.2" r="8.3"/><circle cx="1527.6" cy="631.2" r="8.9"/><circle cx="1524.1" cy="637.8" r="8.3"/><circle cx="1521.7" cy="651.7" r="7.5"/><circle cx="1519.2" cy="652.3" r="8.9"/><circle cx="1514.3" cy="660.2" r="8.5"/><circle cx="1508.2" cy="663.8" r="9.1"/><circle cx="1504.2" cy="671.7" r="8.9"/><circle cx="1499.1" cy="681.8" r="9.2"/><circle cx="1496.2" cy="685.2" r="9.1"/><circle cx="1485.6" cy="697.6" r="9"/><circle cx="1488.4" cy="702.2" r="6.5"/><circle cx="1484.2" cy="717.5" r="9.1"/><circle cx="1484.6" cy="720.9" r="7.5"/><circle cx="1482.9" cy="718.1" r="8.7"/><circle cx="1474.4" cy="732" r="7.5"/><circle cx="1473.3" cy="732.2" r="7.5"/><circle cx="1471.8" cy="728.7" r="8.5"/><circle cx="1457.2" cy="732.7" r="8.4"/><circle cx="1456.9" cy="745.4" r="4.5"/><circle cx="1451.8" cy="747.9" r="5.5"/><circle cx="1440.8" cy="743.2" r="8.9"/><circle cx="1435.5" cy="747.6" r="8.9"/><circle cx="1431" cy="751.6" r="9.1"/><circle cx="1423.9" cy="755.8" r="9.3"/><circle cx="1417.2" cy="760.8" r="8.6"/><circle cx="1414" cy="769.4" r="5.5"/><circle cx="1408.6" cy="764.7" r="9.5"/><circle cx="1517.5" cy="492.6" r="8.6"/><circle cx="1517.5" cy="510" r="8.6"/><circle cx="1507.5" cy="544.6" r="8.6"/><circle cx="1502.5" cy="553.3" r="8.6"/><circle cx="1512.5" cy="553.3" r="8.6"/><circle cx="1497.5" cy="561.9" r="8.6"/><circle cx="1507.5" cy="561.9" r="8.6"/><circle cx="1517.5" cy="561.9" r="8.6"/><circle cx="1492.5" cy="570.6" r="8.6"/><circle cx="1502.5" cy="570.6" r="8.6"/><circle cx="1512.5" cy="570.6" r="8.6"/><circle cx="1522.5" cy="570.6" r="8.6"/><circle cx="1497.5" cy="579.2" r="8.6"/><circle cx="1507.5" cy="579.2" r="8.6"/><circle cx="1517.5" cy="579.2" r="8.6"/><circle cx="1527.5" cy="579.2" r="8.6"/><circle cx="1492.5" cy="587.9" r="8.6"/><circle cx="1502.5" cy="587.9" r="8.6"/><circle cx="1512.5" cy="587.9" r="8.6"/><circle cx="1522.5" cy="587.9" r="8.6"/><circle cx="1487.5" cy="596.6" r="8.6"/><circle cx="1497.5" cy="596.6" r="8.6"/><circle cx="1507.5" cy="596.6" r="8.6"/><circle cx="1517.5" cy="596.6" r="8.6"/><circle cx="1482.5" cy="605.2" r="8.6"/><circle cx="1492.5" cy="605.2" r="8.6"/><circle cx="1502.5" cy="605.2" r="8.6"/><circle cx="1512.5" cy="605.2" r="8.6"/><circle cx="1522.5" cy="605.2" r="8.6"/><circle cx="1487.5" cy="613.9" r="8.6"/><circle cx="1497.5" cy="613.9" r="8.6"/><circle cx="1507.5" cy="613.9" r="8.6"/><circle cx="1517.5" cy="613.9" r="8.6"/><circle cx="1527.5" cy="613.9" r="8.6"/><circle cx="1482.5" cy="622.5" r="8.6"/><circle cx="1492.5" cy="622.5" r="8.6"/><circle cx="1502.5" cy="622.5" r="8.6"/><circle cx="1512.5" cy="622.5" r="8.6"/><circle cx="1522.5" cy="622.5" r="8.6"/><circle cx="1477.5" cy="631.2" r="8.6"/><circle cx="1487.5" cy="631.2" r="8.6"/><circle cx="1497.5" cy="631.2" r="8.6"/><circle cx="1507.5" cy="631.2" r="8.6"/><circle cx="1517.5" cy="631.2" r="8.6"/><circle cx="1527.5" cy="631.2" r="8.6"/><circle cx="1472.5" cy="639.9" r="8.6"/><circle cx="1482.5" cy="639.9" r="8.6"/><circle cx="1492.5" cy="639.9" r="8.6"/><circle cx="1502.5" cy="639.9" r="8.6"/><circle cx="1512.5" cy="639.9" r="8.6"/><circle cx="1477.5" cy="648.5" r="8.6"/><circle cx="1487.5" cy="648.5" r="8.6"/><circle cx="1497.5" cy="648.5" r="8.6"/><circle cx="1507.5" cy="648.5" r="8.6"/><circle cx="1517.5" cy="648.5" r="8.6"/><circle cx="1472.5" cy="657.2" r="8.6"/><circle cx="1482.5" cy="657.2" r="8.6"/><circle cx="1492.5" cy="657.2" r="8.6"/><circle cx="1502.5" cy="657.2" r="8.6"/><circle cx="1512.5" cy="657.2" r="8.6"/><circle cx="1467.5" cy="665.8" r="8.6"/><circle cx="1477.5" cy="665.8" r="8.6"/><circle cx="1487.5" cy="665.8" r="8.6"/><circle cx="1497.5" cy="665.8" r="8.6"/><circle cx="1507.5" cy="665.8" r="8.6"/><circle cx="1462.5" cy="674.5" r="8.6"/><circle cx="1472.5" cy="674.5" r="8.6"/><circle cx="1482.5" cy="674.5" r="8.6"/><circle cx="1492.5" cy="674.5" r="8.6"/><circle cx="1502.5" cy="674.5" r="8.6"/><circle cx="1457.5" cy="683.2" r="8.6"/><circle cx="1467.5" cy="683.2" r="8.6"/><circle cx="1477.5" cy="683.2" r="8.6"/><circle cx="1487.5" cy="683.2" r="8.6"/><circle cx="1497.5" cy="683.2" r="8.6"/><circle cx="1452.5" cy="691.8" r="8.6"/><circle cx="1462.5" cy="691.8" r="8.6"/><circle cx="1472.5" cy="691.8" r="8.6"/><circle cx="1482.5" cy="691.8" r="8.6"/><circle cx="1447.5" cy="700.5" r="8.6"/><circle cx="1457.5" cy="700.5" r="8.6"/><circle cx="1467.5" cy="700.5" r="8.6"/><circle cx="1477.5" cy="700.5" r="8.6"/><circle cx="1452.5" cy="709.1" r="8.6"/><circle cx="1462.5" cy="709.1" r="8.6"/><circle cx="1472.5" cy="709.1" r="8.6"/><circle cx="1447.5" cy="717.8" r="8.6"/><circle cx="1457.5" cy="717.8" r="8.6"/><circle cx="1467.5" cy="717.8" r="8.6"/><circle cx="1477.5" cy="717.8" r="8.6"/><circle cx="1442.5" cy="726.5" r="8.6"/><circle cx="1452.5" cy="726.5" r="8.6"/><circle cx="1462.5" cy="726.5" r="8.6"/><circle cx="1437.5" cy="735.1" r="8.6"/><circle cx="1447.5" cy="735.1" r="8.6"/><circle cx="1432.5" cy="743.8" r="8.6"/><circle cx="1427.5" cy="752.4" r="8.6"/><circle cx="1125" cy="527.5" r="12.3"/><circle cx="1121" cy="611.25" r="12.3"/><circle cx="1288.75" cy="477.5" r="9.5"/><circle cx="1244.4" cy="483.1" r="10"/><circle cx="1219.4" cy="494.4" r="10.5"/><circle cx="1227.5" cy="502.5" r="10.5"/><circle cx="1271.9" cy="495" r="10"/><circle cx="1278.75" cy="496.25" r="9"/><circle cx="1252.5" cy="503.75" r="10"/><circle cx="1246.25" cy="515" r="10"/><circle cx="1248.1" cy="525" r="10"/><circle cx="1267.5" cy="515" r="10.5"/><circle cx="1295" cy="510" r="9"/><circle cx="1300" cy="520" r="9"/><circle cx="1286.25" cy="535" r="10.5"/><circle cx="1292.5" cy="541.25" r="9"/><circle cx="1307.5" cy="536.25" r="8"/><circle cx="1268.75" cy="547.5" r="10"/><circle cx="1257.5" cy="554.4" r="10"/><circle cx="1268.75" cy="558.75" r="10"/><circle cx="1217.5" cy="558.75" r="10.5"/><circle cx="1231.25" cy="566.25" r="10"/><circle cx="1242.5" cy="572.5" r="10.5"/><circle cx="1207.5" cy="581.25" r="11"/><circle cx="1280" cy="576.25" r="10.5"/><circle cx="1270" cy="582.5" r="10"/><circle cx="1265" cy="592.5" r="11"/><circle cx="1285" cy="592.5" r="10.5"/><circle cx="1273.75" cy="597.5" r="10"/><circle cx="1236.25" cy="626.25" r="10.5"/><circle cx="1246.25" cy="635" r="10"/><circle cx="1263.1" cy="640.6" r="10"/><circle cx="1288.75" cy="623.75" r="11.5"/><circle cx="1290" cy="640" r="11"/><circle cx="1225.6" cy="653.75" r="10.5"/><circle cx="1233.75" cy="662.5" r="10.5"/><circle cx="1267.5" cy="663.75" r="10"/><circle cx="1261.25" cy="681.25" r="12"/><circle cx="1286.25" cy="703.75" r="10.5"/><circle cx="1307.5" cy="702.5" r="9"/><circle cx="1305" cy="685" r="10"/><circle cx="1285" cy="656.25" r="12.5"/><circle cx="1290" cy="670" r="12.5"/><circle cx="1287.5" cy="686.25" r="11.5"/><circle cx="1325" cy="718.75" r="11"/><circle cx="1310" cy="552.5" r="8.5"/><circle cx="1313.75" cy="563.75" r="8.5"/><circle cx="1311.25" cy="585" r="8.5"/><circle cx="1312.5" cy="596.25" r="8.5"/><circle cx="1308.75" cy="610" r="8.5"/><circle cx="1521.9" cy="466.25" r="9.5"/><circle cx="1518.75" cy="482.5" r="10"/><circle cx="1518.75" cy="501.25" r="10"/><circle cx="1517.5" cy="510" r="9.5"/><circle cx="1508.75" cy="526.25" r="8.5"/><circle cx="1505" cy="536.25" r="8.5"/><circle cx="1497.5" cy="557.5" r="10"/><circle cx="1493.75" cy="577.5" r="10.5"/><circle cx="1485" cy="602.5" r="10"/><circle cx="1476.25" cy="625" r="10"/><circle cx="1536.25" cy="473.75" r="9.5"/><circle cx="1536" cy="490" r="9.5"/><circle cx="1520" cy="502.5" r="10.5"/><circle cx="1567.5" cy="476.25" r="11.5"/><circle cx="1576.25" cy="490" r="11"/><circle cx="1576.9" cy="498.75" r="11"/><circle cx="1578.75" cy="516.25" r="11.5"/><circle cx="1538.75" cy="510" r="11"/><circle cx="1548.75" cy="516.25" r="11"/><circle cx="1527.5" cy="537.5" r="10.5"/><circle cx="1542.5" cy="541.25" r="10"/><circle cx="1555" cy="546.25" r="10"/><circle cx="1588.75" cy="544.4" r="11.5"/><circle cx="1523.75" cy="552.5" r="11"/><circle cx="1545" cy="567.5" r="11"/><circle cx="1536.25" cy="575" r="10"/><circle cx="1612.5" cy="576.9" r="11.5"/><circle cx="1546.25" cy="592.5" r="10.2"/><circle cx="1588.75" cy="608.1" r="11.5"/><circle cx="1620.6" cy="610.6" r="11.5"/><circle cx="1692.5" cy="611.25" r="12.5"/><circle cx="1680" cy="626.25" r="12.5"/><circle cx="1558.75" cy="623.75" r="10.2"/>
</g>
<circle cx="1067" cy="302" r="12.35" fill="#ffc000"/>
<circle cx="1258.75" cy="330.5" r="9.85" fill="#ff7c80"/>
<circle cx="1213.75" cy="367" r="10.85" fill="#92d050"/>
<circle cx="1275.75" cy="414.5" r="9.85" fill="#ff7c80"/>
<circle cx="1280" cy="451.25" r="9.85" fill="#ff7c80"/>
<circle cx="1567" cy="253" r="9.85" fill="#ffc000"/>
<circle cx="1564.25" cy="276.25" r="11.35" fill="#ffc000"/>
<circle cx="1576.75" cy="291.75" r="10.85" fill="#ff7c80"/>
<circle cx="1546.25" cy="362" r="9.85" fill="#ffc000"/>
<circle cx="1541.25" cy="403.25" r="9.85" fill="#ffc000"/>
<circle cx="1568" cy="412" r="9.85" fill="#ffc000"/>
<circle cx="1580.5" cy="413.75" r="11.35" fill="#92d050"/>
<circle cx="1548" cy="427" r="9.85" fill="#ffc000"/>
<circle cx="1574.5" cy="436.25" r="11.35" fill="#ffc000"/>
<circle cx="1531.25" cy="443.25" r="9.85" fill="#ffc000"/>
<circle cx="1569.25" cy="458" r="9.85" fill="#ffc000"/>
<g fill="#bfbfbf"><circle cx="1283.1" cy="465" r="10"/></g>
<line x1="1027.7" x2="1772.2" y1="303.4" y2="303.4" stroke="#e8372c" stroke-width="2.1" stroke-dasharray="8.2 8.58"/>
<line x1="1027.7" x2="1772.2" y1="458" y2="458" stroke="#f0a09c" stroke-width="2.1" stroke-dasharray="8.2 8.58"/>
<line x1="1273.1" x2="1273.1" y1="72.2" y2="800.25" stroke="#000" stroke-width="2.4" stroke-dasharray="8.7 8.07"/>
<line x1="1539.7" x2="1539.7" y1="72.2" y2="800.25" stroke="#000" stroke-width="2.4" stroke-dasharray="8.7 8.07"/>
<rect x="1024.25" y="70.75" width="750.0" height="729.5" fill="none" stroke="#333" stroke-width="1.3"/>
<text x="1081.53" y="319.7" font-size="31" textLength="110.92" lengthAdjust="spacingAndGlyphs">PROM2</text>
<text x="1247.36" y="319.2" font-size="31" textLength="75.00" lengthAdjust="spacingAndGlyphs">NAT1</text>
<text x="1130.83" y="405.45" font-size="31" textLength="115.80" lengthAdjust="spacingAndGlyphs">LGALS9</text>
<text x="1264.13" y="403.45" font-size="31" textLength="74.47" lengthAdjust="spacingAndGlyphs">NAT1</text>
<text x="1252.78" y="491.2" font-size="31" textLength="102.32" lengthAdjust="spacingAndGlyphs">NTRK2</text>
<text x="1573.55" y="241.7" font-size="31" textLength="95.30" lengthAdjust="spacingAndGlyphs">ATP7B</text>
<text x="1458.30" y="258.7" font-size="31" textLength="95.55" lengthAdjust="spacingAndGlyphs">ATP7B</text>
<text x="1454.55" y="304.2" font-size="31" textLength="94.79" lengthAdjust="spacingAndGlyphs">ATP7B</text>
<text x="1582.05" y="334.2" font-size="31" textLength="95.55" lengthAdjust="spacingAndGlyphs">ATP7B</text>
<text x="1477.83" y="350.95" font-size="31" textLength="85.23" lengthAdjust="spacingAndGlyphs">FMO2</text>
<text x="1433.55" y="394.7" font-size="31" textLength="94.79" lengthAdjust="spacingAndGlyphs">ATP7B</text>
<text x="1558.54" y="398.45" font-size="31" textLength="103.80" lengthAdjust="spacingAndGlyphs">KCNE3</text>
<text x="1376.30" y="441.7" font-size="31" textLength="139.99" lengthAdjust="spacingAndGlyphs">SLCO2B1</text>
<text x="1531.84" y="497.95" font-size="31" textLength="127.72" lengthAdjust="spacingAndGlyphs">ZNF804B</text>
<text x="1011.75" y="160.25" font-size="24.7" font-weight="normal" text-anchor="end" fill="#4d4d4d" >4</text>
<text x="1011.75" y="315.25" font-size="24.7" font-weight="normal" text-anchor="end" fill="#4d4d4d" >3</text>
<text x="1011.75" y="469.5" font-size="24.7" font-weight="normal" text-anchor="end" fill="#4d4d4d" >2</text>
<text x="1011.75" y="625" font-size="24.7" font-weight="normal" text-anchor="end" fill="#4d4d4d" >1</text>
<text x="1011.75" y="780.25" font-size="24.7" font-weight="normal" text-anchor="end" fill="#4d4d4d" >0</text>
<text x="1141" y="839.5" font-size="24.7" font-weight="normal" text-anchor="middle" fill="#4d4d4d" >-2</text>
<text x="1272.5" y="839.5" font-size="24.7" font-weight="normal" text-anchor="middle" fill="#4d4d4d" >-1</text>
<text x="1407" y="839.5" font-size="24.7" font-weight="normal" text-anchor="middle" fill="#4d4d4d" >0</text>
<text x="1539.5" y="839.5" font-size="24.7" font-weight="normal" text-anchor="middle" fill="#4d4d4d" >1</text>
<text x="1671.5" y="839.5" font-size="24.7" font-weight="normal" text-anchor="middle" fill="#4d4d4d" >2</text>
<text x="1399" y="885" font-size="33" font-weight="bold" text-anchor="middle">log<tspan font-size="21.5" dy="8">2</tspan><tspan dy="-8"> (OR)</tspan></text>
<text transform="translate(985.5,431) rotate(-90)" font-size="33" font-weight="bold" text-anchor="middle">-log (<tspan font-style="italic">P</tspan>)</text>
<text x="1399" y="26.6" font-size="33" font-weight="bold" text-anchor="middle" fill="#000" >Discovery cohort (case) vs. Population control</text>
<text x="1843" y="358" font-size="25.3" font-weight="bold" text-anchor="start" fill="#000" >Variant class</text>
<circle cx="1846" cy="426" r="15.7" fill="#ff7c80"/>
<text x="1881" y="436.5" font-size="29.2" font-weight="normal" text-anchor="start" fill="#000" >5’UTR</text>
<circle cx="1846" cy="489.6" r="15.7" fill="#ffc000"/>
<text x="1881" y="500.1" font-size="29.2" font-weight="normal" text-anchor="start" fill="#000" >Exon</text>
<circle cx="1846" cy="553.2" r="15.7" fill="#9dc3e6"/>
<text x="1881" y="563.7" font-size="29.2" font-weight="normal" text-anchor="start" fill="#000" >3’UTR</text>
<circle cx="1846" cy="617" r="15.7" fill="#92d050"/>
<text x="1881" y="627.5" font-size="29.2" font-weight="normal" text-anchor="start" fill="#000" >Intron</text>
<text x="0" y="0" font-size="75" font-weight="bold" text-anchor="start" fill="#000" transform="translate(0.5,66) scale(0.92,1)">a</text>
<text x="0" y="0" font-size="75" font-weight="bold" text-anchor="start" fill="#000" transform="translate(-1,978.5) scale(0.95,1)">b</text>
<text transform="translate(200,1357) rotate(-90)" font-size="31.4" font-weight="bold" text-anchor="middle" textLength="204.5" lengthAdjust="spacingAndGlyphs">Proportion (%)</text>
<rect x="351.25" y="1240.25" width="50.5" height="320.0" fill="#ffe699" stroke="#8a8a8a" stroke-width="0.9"/>
<rect x="405.5" y="1313.25" width="50.75" height="247.0" fill="#bdd7ee" stroke="#8a8a8a" stroke-width="0.9"/>
<rect x="460.25" y="1277.25" width="50.5" height="283.0" fill="#c5e0b4" stroke="#8a8a8a" stroke-width="0.9"/>
<rect x="572.5" y="1520.25" width="50.0" height="40.0" fill="#ffe699" stroke="#8a8a8a" stroke-width="0.9"/>
<rect x="626.25" y="1478.25" width="50.5" height="82.0" fill="#bdd7ee" stroke="#8a8a8a" stroke-width="0.9"/>
<rect x="680.25" y="1494.25" width="50.25" height="66.0" fill="#c5e0b4" stroke="#8a8a8a" stroke-width="0.9"/>
<path d="M310.75 1152.35 V1560.25 H779.5" fill="none" stroke="#000" stroke-width="2.8"/>
<line x1="297.25" x2="310.75" y1="1153.75" y2="1153.75" stroke="#000" stroke-width="2.8"/>
<text x="292.4" y="1166.65" font-size="25.4" font-weight="normal" text-anchor="end" fill="#000" >40.0</text>
<line x1="297.25" x2="310.75" y1="1255.25" y2="1255.25" stroke="#000" stroke-width="2.8"/>
<text x="292.4" y="1268.15" font-size="25.4" font-weight="normal" text-anchor="end" fill="#000" >30.0</text>
<line x1="297.25" x2="310.75" y1="1357.25" y2="1357.25" stroke="#000" stroke-width="2.8"/>
<text x="292.4" y="1370.15" font-size="25.4" font-weight="normal" text-anchor="end" fill="#000" >20.0</text>
<line x1="297.25" x2="310.75" y1="1459" y2="1459" stroke="#000" stroke-width="2.8"/>
<text x="292.4" y="1471.9" font-size="25.4" font-weight="normal" text-anchor="end" fill="#000" >10.0</text>
<line x1="297.25" x2="310.75" y1="1560.25" y2="1560.25" stroke="#000" stroke-width="2.8"/>
<text x="292.4" y="1573.15" font-size="25.4" font-weight="normal" text-anchor="end" fill="#000" >0.0</text>
<text transform="translate(386.5,1412) rotate(-90)" font-size="25.3" font-weight="bold" text-anchor="middle">31.4 %</text>
<text transform="translate(441,1412) rotate(-90)" font-size="25.3" font-weight="bold" text-anchor="middle">24.3 %</text>
<text transform="translate(495.5,1412) rotate(-90)" font-size="25.3" font-weight="bold" text-anchor="middle">27.8 %</text>
<text transform="translate(607,1412) rotate(-90)" font-size="25.3" font-weight="bold" text-anchor="middle">3.9 %</text>
<text transform="translate(661,1412) rotate(-90)" font-size="25.3" font-weight="bold" text-anchor="middle">7.8 %</text>
<text transform="translate(714.5,1412) rotate(-90)" font-size="25.3" font-weight="bold" text-anchor="middle">6.3 %</text>
<path d="M378.25 1128.5 V1112.5 H596.75 V1128.5" fill="none" stroke="#000" stroke-width="2.6"/>
<text x="487.5" y="1115.15" font-size="32.4" font-weight="bold" text-anchor="middle" fill="#000" >***</text>
<path d="M432.5 1167.75 V1151.75 H651.75 V1167.75" fill="none" stroke="#000" stroke-width="2.6"/>
<text x="541.5" y="1152.0" font-size="32.4" font-weight="bold" text-anchor="middle" fill="#000" >*</text>
<path d="M486.25 1201.75 V1185.75 H705.5 V1201.75" fill="none" stroke="#000" stroke-width="2.6"/>
<text x="595.5" y="1188.15" font-size="32.4" font-weight="bold" text-anchor="middle" fill="#000" >***</text>
<text x="432" y="1606" font-size="25.3" font-weight="bold" text-anchor="middle" fill="#000" >AT-DILI cases</text>
<text x="651" y="1606" font-size="25.3" font-weight="bold" text-anchor="middle" fill="#000" >Treatment-tolerant</text>
<text x="651" y="1635.5" font-size="25.3" font-weight="bold" text-anchor="middle" fill="#000" >control</text>
<text x="545" y="1048" font-size="33" font-weight="bold" text-anchor="middle"><tspan font-style="italic">NAT2</tspan> UA</text>
<text transform="translate(956,1357) rotate(-90)" font-size="31.4" font-weight="bold" text-anchor="middle" textLength="204.5" lengthAdjust="spacingAndGlyphs">Proportion (%)</text>
<rect x="1108.75" y="1215.5" width="50.5" height="344.75" fill="#ffe699" stroke="#8a8a8a" stroke-width="0.9"/>
<rect x="1163.25" y="1404" width="50.5" height="156.25" fill="#bdd7ee" stroke="#8a8a8a" stroke-width="0.9"/>
<rect x="1218.25" y="1359" width="50.5" height="201.25" fill="#c5e0b4" stroke="#8a8a8a" stroke-width="0.9"/>
<rect x="1382" y="1548.5" width="50.5" height="11.75" fill="#bdd7ee" stroke="#8a8a8a" stroke-width="0.9"/>
<rect x="1436.25" y="1553.25" width="50.0" height="7.0" fill="#c5e0b4" stroke="#8a8a8a" stroke-width="0.9"/>
<path d="M1067.5 1152.35 V1560.25 H1538.25" fill="none" stroke="#000" stroke-width="2.8"/>
<line x1="1054.0" x2="1067.5" y1="1153.75" y2="1153.75" stroke="#000" stroke-width="2.8"/>
<text x="1041.6" y="1166.65" font-size="25.4" font-weight="normal" text-anchor="end" fill="#000" >20.0</text>
<line x1="1054.0" x2="1067.5" y1="1255.25" y2="1255.25" stroke="#000" stroke-width="2.8"/>
<text x="1041.6" y="1268.15" font-size="25.4" font-weight="normal" text-anchor="end" fill="#000" >15.0</text>
<line x1="1054.0" x2="1067.5" y1="1357.25" y2="1357.25" stroke="#000" stroke-width="2.8"/>
<text x="1041.6" y="1370.15" font-size="25.4" font-weight="normal" text-anchor="end" fill="#000" >10.0</text>
<line x1="1054.0" x2="1067.5" y1="1459" y2="1459" stroke="#000" stroke-width="2.8"/>
<text x="1041.6" y="1471.9" font-size="25.4" font-weight="normal" text-anchor="end" fill="#000" >5.0</text>
<line x1="1054.0" x2="1067.5" y1="1560.25" y2="1560.25" stroke="#000" stroke-width="2.8"/>
<text x="1041.6" y="1573.15" font-size="25.4" font-weight="normal" text-anchor="end" fill="#000" >0.0</text>
<text transform="translate(1144,1412) rotate(-90)" font-size="25.3" font-weight="bold" text-anchor="middle">17.1 %</text>
<text transform="translate(1199,1412) rotate(-90)" font-size="25.3" font-weight="bold" text-anchor="middle">10.8 %</text>
<text transform="translate(1254,1412) rotate(-90)" font-size="25.3" font-weight="bold" text-anchor="middle">13.9 %</text>
<text transform="translate(1359,1412) rotate(-90)" font-size="25.3" font-weight="bold" text-anchor="middle">0.0 %</text>
<text transform="translate(1416.5,1412) rotate(-90)" font-size="25.3" font-weight="bold" text-anchor="middle">0.8 %</text>
<text transform="translate(1471,1412) rotate(-90)" font-size="25.3" font-weight="bold" text-anchor="middle">0.5 %</text>
<path d="M1128.25 1128.5 V1112.5 H1349.5 V1128.5" fill="none" stroke="#000" stroke-width="2.6"/>
<text x="1238.75" y="1113.9" font-size="32.4" font-weight="bold" text-anchor="middle" fill="#000" >***</text>
<path d="M1183 1167.25 V1151.25 H1403 V1167.25" fill="none" stroke="#000" stroke-width="2.6"/>
<text x="1292.5" y="1152.0" font-size="32.4" font-weight="bold" text-anchor="middle" fill="#000" >**</text>
<path d="M1236.25 1201.5 V1185.5 H1461.25 V1201.5" fill="none" stroke="#000" stroke-width="2.6"/>
<text x="1348.75" y="1188.0" font-size="32.4" font-weight="bold" text-anchor="middle" fill="#000" >***</text>
<text x="1188.5" y="1606" font-size="25.3" font-weight="bold" text-anchor="middle" fill="#000" >AT-DILI cases</text>
<text x="1404" y="1606" font-size="25.3" font-weight="bold" text-anchor="middle" fill="#000" >Treatment-tolerant</text>
<text x="1404" y="1635.5" font-size="25.3" font-weight="bold" text-anchor="middle" fill="#000" >control</text>
<text x="1304" y="1048" font-size="33" font-weight="bold" text-anchor="middle"><tspan font-style="italic">NAT2</tspan> UA and <tspan font-style="italic">ATP7B</tspan> 832R/R</text>
<rect x="1664.25" y="1212.5" width="44.5" height="25" fill="#ffe699" stroke="#8a8a8a" stroke-width="0.9"/>
<text x="1723.25" y="1235.5" font-size="29.2" font-weight="normal" text-anchor="start" fill="#000" >Discovery cohort</text>
<rect x="1664.25" y="1302.25" width="44.5" height="25" fill="#bdd7ee" stroke="#8a8a8a" stroke-width="0.9"/>
<text x="1723.25" y="1325.25" font-size="29.2" font-weight="normal" text-anchor="start" fill="#000" >Replication cohort</text>
<rect x="1664.25" y="1392" width="44.5" height="25" fill="#c5e0b4" stroke="#8a8a8a" stroke-width="0.9"/>
<text x="1723.25" y="1415" font-size="29.2" font-weight="normal" text-anchor="start" fill="#000" >Combined cohort</text>
</svg>
</body></html>
